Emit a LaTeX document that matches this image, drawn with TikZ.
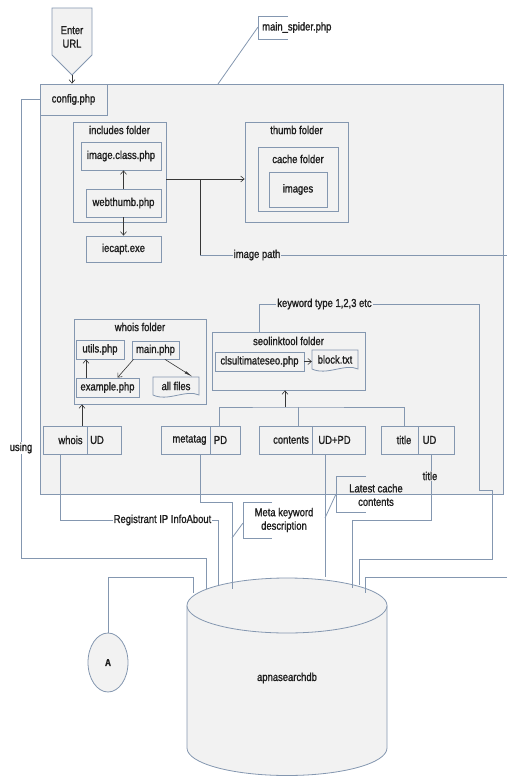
\documentclass[tikz,border=0pt]{standalone}
\usepackage{fontspec}
\setmainfont{Liberation Sans}[FakeStretch=0.82,FakeBold=1.2]
\usetikzlibrary{arrows.meta,shapes.geometric}
\definecolor{LC}{RGB}{132,151,176}
\definecolor{BG}{RGB}{242,242,242}
\definecolor{AC}{RGB}{55,55,55}
\definecolor{TX}{RGB}{30,30,30}
\begin{document}
\begin{tikzpicture}[x=1pt,y=-1pt,
  font=\fontsize{11.5}{13.5}\selectfont, text=TX,
  box/.style={draw=LC, fill=BG, line width=0.8pt, inner sep=0pt},
  lbl/.style={inner sep=1pt},
  ln/.style={draw=LC, line width=0.8pt},
  arr/.style={draw=AC, line width=0.6pt, -{Straight Barb[length=3.5pt,width=6pt]}},
  thk/.style={draw=AC, line width=0.6pt, -{Latex[length=9pt,width=2.5pt]}},
  dk/.style={draw=AC, line width=0.6pt}]
\useasboundingbox (0,0) rectangle (507,776);

% ---------- main container ----------
\node[box, minimum width=463, minimum height=410] (main) at (271.5,289) {};
\node[box, minimum width=67, minimum height=31] (config) at (73.5,99.5) {config.php};

% ---------- Enter URL ----------
\path[box] (52,8) -- (92,8) -- (92,55) -- (72,75) -- (52,55) -- cycle;
\node[align=center, lbl] (enter) at (72,37) {Enter\\URL};
\coordinate (entertip) at (72,75);
\draw[arr] (entertip) -- (entertip |- config.north);

% ---------- main_spider.php ----------
\draw[ln] (288,16) -- (258,16) -- (258,39) -- (288,39);
\node[anchor=west, lbl] (spider) at (261,27.5) {main\_spider.php};
\coordinate (ms) at (258,27);
\coordinate (msend) at (218,84);
\draw[ln] (ms) -- (msend);

% ---------- includes folder ----------
\node[box, minimum width=93, minimum height=100] (includes) at (119.5,172) {};
\node[lbl] (inct) at (119.5,130) {includes folder};
\node[box, minimum width=80, minimum height=28] (imageclass) at (121,156) {image.class.php};
\node[box, minimum width=75, minimum height=28] (webthumb) at (123.5,203) {webthumb.php};
\node[box, minimum width=75, minimum height=26] (iecapt) at (123.5,249) {iecapt.exe};
\draw[arr] (webthumb.north) -- (webthumb.north |- imageclass.south);
\draw[arr] (webthumb.south) -- (webthumb.south |- iecapt.north);

% ---------- thumb folder ----------
\node[box, minimum width=103, minimum height=100] (thumb) at (296.5,172) {};
\node[lbl] (thumbt) at (296.5,130) {thumb folder};
\node[box, minimum width=80, minimum height=64] (cache) at (298,179) {};
\node[lbl] (cachet) at (298,159) {cache folder};
\node[box, minimum width=58, minimum height=35] (images) at (298,189.5) {images};

\coordinate (j1) at (166,179);
\draw[arr] (j1) -- (j1 -| thumb.west);
\coordinate (ip) at (200,179);
\coordinate (ipend) at (507,255);
\draw[ln] (ip) |- (ipend);
\draw[dk] (ip) -- (200,255);
\node[lbl, fill=BG] (iplabel) at (257,255) {image path};

% ---------- whois folder ----------
\node[box, minimum width=132, minimum height=85] (whoisf) at (140,361.5) {};
\node[lbl] (whoist) at (140,327) {whois folder};
\node[box, minimum width=48, minimum height=19] (utils) at (100,349.5) {utils.php};
\node[box, minimum width=47, minimum height=18] (mainphp) at (155.5,350) {main.php};
\node[box, minimum width=63, minimum height=19] (example) at (107.5,387.5) {example.php};
\path[box] (153,377) -- (199,377) -- (199,395) .. controls (186,389) and (168,402) .. (153,395) -- cycle;
\node[lbl, minimum width=46, minimum height=18] (allfiles) at (176,386) {all files};
\coordinate (afne) at (193,377);
\draw[arr] ([xshift=-21.5]example.north) -- ([xshift=-21.5]example.north |- utils.south);
\draw[arr] ([xshift=-22]mainphp.south) -- ([xshift=10]example.north);
\draw[thk] ([xshift=9.5]mainphp.south) -- (afne);

% ---------- seolinktool folder ----------
\node[box, minimum width=153, minimum height=58] (seof) at (288.5,361) {};
\node[lbl] (seot) at (288.5,341) {seolinktool folder};
\node[box, minimum width=89, minimum height=19] (cls) at (259.5,361.5) {clsultimateseo.php};
\path[box] (312,350) -- (358,350) -- (358,369) .. controls (345,363) and (327,376) .. (312,369) -- cycle;
\node[lbl, minimum width=46, minimum height=19] (block) at (335,359.5) {block.txt};
\draw[arr] (cls.east) -- (cls.east -| block.west);

% ---------- bottom row of split boxes ----------
\node[box, minimum width=78, minimum height=28] (whois) at (82,440) {};
\draw[ln] (87,426) -- (87,454);
\node[lbl] (whoisa) at (70.5,440) {whois};
\node[lbl] (whoisb) at (97,440) {UD};

\node[box, minimum width=79, minimum height=28] (metatag) at (200.5,440) {};
\draw[ln] (210,426) -- (210,454);
\node[lbl] (metataga) at (189.5,440) {metatag};
\node[lbl] (metatagb) at (220.5,440) {PD};

\node[box, minimum width=106, minimum height=28] (contents) at (312,440) {};
\draw[ln] (312,426) -- (312,454);
\node[lbl] (contentsa) at (291,440) {contents};
\node[lbl] (contentsb) at (334.5,440) {UD+PD};

\node[box, minimum width=73, minimum height=28] (title) at (417.5,440) {};
\draw[ln] (418,426) -- (418,454);
\node[lbl] (titlea) at (404,440) {title};
\node[lbl] (titleb) at (429.5,440) {UD};

\draw[arr] (whois.north) -- (whois.north |- whoisf.south);
\coordinate (t0) at (285,407);
\draw[arr] (t0) -- (t0 |- seof.south);
\draw[ln] ([xshift=18.5]metatag.north) |- (t0) -| ([xshift=-13.5]title.north);
\draw[ln] ([xshift=-14]contents.north) -- ([xshift=-14]contents.north |- t0);

% ---------- database ----------
\path[fill=BG] (187,605.5) -- (187,748) .. controls (187,763.2) and (231.8,775.5) .. (287,775.5) .. controls (342.2,775.5) and (387,763.2) .. (387,748) -- (387,605.5) -- cycle;
\draw[ln] (187,605.5) -- (187,748) .. controls (187,763.2) and (231.8,775.5) .. (287,775.5) .. controls (342.2,775.5) and (387,763.2) .. (387,748) -- (387,605.5);
\draw[ln, fill=BG] (287,605.5) ellipse [x radius=100, y radius=27.5];
\node[lbl] (db) at (287,678) {apnasearchdb};

\node[draw=LC, fill=BG, line width=0.8pt, ellipse, minimum width=40, minimum height=59, inner sep=0pt] (A) at (108,662.5) {\fontsize{10}{11}\selectfont\bfseries A};

\coordinate (dbA) at (193,593);
\coordinate (dbU) at (206,589);
\coordinate (dbW) at (218,585);
\coordinate (dbM) at (232,589);
\coordinate (dbC) at (325,577);
\coordinate (dbT) at (352,588);
\coordinate (dbK) at (359,585);
\coordinate (dbI) at (365,593);
\coordinate (ipback) at (507,577);

% ---------- connectors to database ----------
\draw[ln] (config.west) -- (21,99.5) -- (21,558) -| (dbU);
\node[lbl, fill=white] (using) at (21,448) {using};

\draw[ln] ([xshift=-22]whois.south) |- (218,520) -- (dbW);
\node[lbl, fill=white] (regl) at (162.5,520) {Registrant IP InfoAbout};

\draw[ln] ([xshift=-0.5]metatag.south) |- (232,502) -- (dbM);

\draw[ln] ([xshift=13]contents.south) -- (dbC);

\draw[ln] ([xshift=13.5]title.south) |- (352,520) -- (dbT);
\node[lbl, fill=BG] (titlel) at (430,476) {title};

\draw[ln] ([xshift=-29.5]seof.north) |- (479,304) -- (479,490) -- (492,490) -- (492,559) -| (dbK);
\node[lbl, fill=BG] (kwl) at (324.5,304) {keyword type 1,2,3 etc};

\draw[ln] (A.north) |- (dbA |- 0,577) -- (dbA);
\draw[ln] (ipback) -| (dbI);

% ---------- annotations ----------
\draw[ln] (272,502) -- (243,502) -- (243,538) -- (272,538);
\node[align=center, lbl] (metal) at (284,520) {Meta keyword\\description};
\coordinate (mk) at (243,523);
\coordinate (mkend) at (232,538);
\draw[ln] (mk) -- (mkend);

\draw[ln] (366,476) -- (336,476) -- (336,512) -- (366,512);
\node[align=center, lbl] (latl) at (376,495) {Latest cache\\contents};
\coordinate (lc) at (336,494);
\coordinate (lcend) at (325,518);
\draw[ln] (lc) -- (lcend);
\end{tikzpicture}
\end{document}
